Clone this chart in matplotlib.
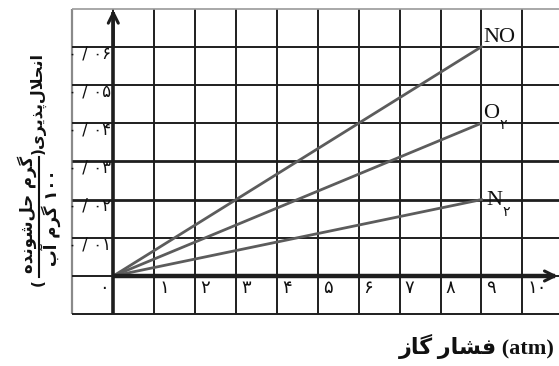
import re
import matplotlib
matplotlib.use('Agg')
import matplotlib.pyplot as plt
from matplotlib.lines import Line2D

# data
pressure_ticks = [0, 1, 2, 3, 4, 5, 6, 7, 8, 9, 10]
solubility_ticks = [0.01, 0.02, 0.03, 0.04, 0.05, 0.06]
gas_names = ['NO', 'O', 'N']
gas_subs = ['', '۲', '۲']
end_pressure = [9, 9, 9]
end_solubility = [0.06, 0.04, 0.02]

x_title = 'فشار گاز'
x_unit = '(atm)'
y_title = 'انحلال‌پذیری'
y_num = 'گرم حل‌شونده'
y_den = '۱۰۰ گرم آب'

# matplotlib does no arabic shaping, so pick presentation forms by hand
FORMS = {
    'ا': '\uFE8D\uFE8E', 'آ': '\uFE81\uFE82',
    'ب': '\uFE8F\uFE90\uFE91\uFE92', 'پ': '\uFB56\uFB57\uFB58\uFB59',
    'ح': '\uFEA1\uFEA2\uFEA3\uFEA4', 'د': '\uFEA9\uFEAA', 'ذ': '\uFEAB\uFEAC',
    'ر': '\uFEAD\uFEAE', 'ز': '\uFEAF\uFEB0', 'ش': '\uFEB5\uFEB6\uFEB7\uFEB8',
    'ف': '\uFED1\uFED2\uFED3\uFED4', 'گ': '\uFB92\uFB93\uFB94\uFB95',
    'ل': '\uFEDD\uFEDE\uFEDF\uFEE0', 'م': '\uFEE1\uFEE2\uFEE3\uFEE4',
    'ن': '\uFEE5\uFEE6\uFEE7\uFEE8', 'ه': '\uFEE9\uFEEA\uFEEB\uFEEC',
    'و': '\uFEED\uFEEE', 'ی': '\uFBFC\uFBFD\uFBFE\uFBFF',
}
LAM_ALEF = {'ا': '\uFEFB\uFEFC', 'آ': '\uFEF5\uFEF6'}


def forms_of(tok):
    if len(tok) == 2:
        return LAM_ALEF[tok[1]]
    return FORMS.get(tok)


def rtl(text):
    toks = []
    i = 0
    while i < len(text):
        if text[i] == 'ل' and i + 1 < len(text) and text[i + 1] in LAM_ALEF:
            toks.append(text[i:i + 2])
            i += 2
        else:
            toks.append(text[i])
            i += 1
    out = []
    for k, tok in enumerate(toks):
        f = forms_of(tok)
        if f is None:
            if tok != '\u200c':
                out.append(tok)
            continue
        prev = forms_of(toks[k - 1]) if k > 0 else None
        nxt = forms_of(toks[k + 1]) if k + 1 < len(toks) else None
        jp = prev is not None and len(prev) == 4
        jn = nxt is not None and len(f) == 4
        if jp and jn:
            out.append(f[3])
        elif jp:
            out.append(f[1])
        elif jn:
            out.append(f[2])
        else:
            out.append(f[0])
    s = ''.join(out)[::-1]
    return re.sub(r'[۰-۹/]+', lambda m: m.group()[::-1], s)


def fa(num):
    return str(num).translate(str.maketrans('0123456789.', '۰۱۲۳۴۵۶۷۸۹/'))


fig = plt.figure(figsize=(5.59, 3.66), dpi=100)
ax = fig.add_axes([0, 0, 1, 1])
ax.set_xlim(-2.77, 10.897)
ax.set_ylim(-0.02356, 0.07225)
ax.axis('off')

# grid box
xs = [-1] + pressure_ticks + [11]
ys = [-0.01, 0] + solubility_ticks + [0.07]
dark = '#1e1e1e'
for x in xs:
    c = '#8a8a8a' if x == -1 else dark
    ax.vlines(x, -0.01, 0.07, color=c, lw=1.6 if x == -1 else 1.4, zorder=1)
for y in ys:
    if y == 0.07:
        ax.hlines(y, -1, 11, color='#9a9a9a', lw=1.2, zorder=1)
    else:
        lw = 2.0 if y in (0.02, 0.03) else 1.4
        ax.hlines(y, -1, 11, color=dark, lw=lw, zorder=1)

# axes with arrows
ax.plot([0, 10.8], [0, 0], color=dark, lw=3.2, zorder=3, solid_capstyle='butt')
ax.plot([0, 0], [-0.01, 0.069], color=dark, lw=2.6, zorder=3, solid_capstyle='butt')
ax.annotate('', xy=(10.87, 0), xytext=(10.0, 0),
            arrowprops=dict(arrowstyle='->', lw=2.2, color=dark, mutation_scale=18,
                            shrinkA=0, shrinkB=0), zorder=4)
ax.annotate('', xy=(0, 0.0697), xytext=(0, 0.06),
            arrowprops=dict(arrowstyle='->', lw=2.2, color=dark, mutation_scale=18,
                            shrinkA=0, shrinkB=0), zorder=4)

# gas lines
label_y = {'NO': ('bottom', 0.0), 'O': ('bottom', 0.0), 'N': ('center', -0.0002)}
for name, sub, p, s in zip(gas_names, gas_subs, end_pressure, end_solubility):
    ax.plot([0, p], [0, s], color='#5c5c5c', lw=2, zorder=2)
    va, dy = label_y[name]
    dx = 0.12 if name == 'N' else 0.04
    t = ax.text(p + dx, s + dy, name, family='Liberation Serif', fontsize=16,
                ha='left', va=va, color='#111')
    if sub:
        ax.annotate(sub, xy=(1, 0.28), xycoords=t, xytext=(0.3, 0), textcoords='offset points',
                    family='DejaVu Sans', fontsize=10, ha='left', va='top', color='#111')

# tick labels
for x in pressure_ticks:
    if x == 0:
        ax.text(-0.12, -0.0007, fa(0), ha='right', va='top', fontsize=13, color='#111')
    else:
        ax.text(x + 0.12, -0.0007, fa(x), ha='left', va='top', fontsize=13, color='#111')
for y in solubility_ticks:
    ax.text(-0.05, y + 0.0007, fa('%.2f' % y).replace('/', ' / '), ha='right', va='top',
            fontsize=12, color='#111')

# axis titles
fig.text(555 / 559, 1 - 346 / 366, rtl(x_title) + ' ' + x_unit,
         family=['Liberation Serif', 'DejaVu Sans'], fontweight='bold', fontsize=16,
         ha='right', va='center', color='#111')

fig.text(38 / 559, 1 - 101 / 366, rtl(y_title), rotation=90, fontweight='bold',
         fontsize=11.5, ha='center', va='center', color='#111')
fig.text(38 / 559, 1 - 151 / 366, ')', rotation=90, fontweight='bold',
         fontsize=11, ha='center', va='center', color='#111')
fig.text(38 / 559, 1 - 283 / 366, '(', rotation=90, fontweight='bold',
         fontsize=11, ha='center', va='center', color='#111')
fig.add_artist(Line2D([39 / 559, 39 / 559], [1 - 157 / 366, 1 - 277 / 366],
                      color='#111', lw=1.5, transform=fig.transFigure))
fig.text(27 / 559, 1 - 214 / 366, rtl(y_num), rotation=90, fontweight='bold',
         fontsize=12, ha='center', va='center', color='#111')
fig.text(51 / 559, 1 - 218 / 366, rtl(y_den), rotation=90, fontweight='bold',
         fontsize=12, ha='center', va='center', color='#111')

fig.savefig('out.png', dpi=100)
